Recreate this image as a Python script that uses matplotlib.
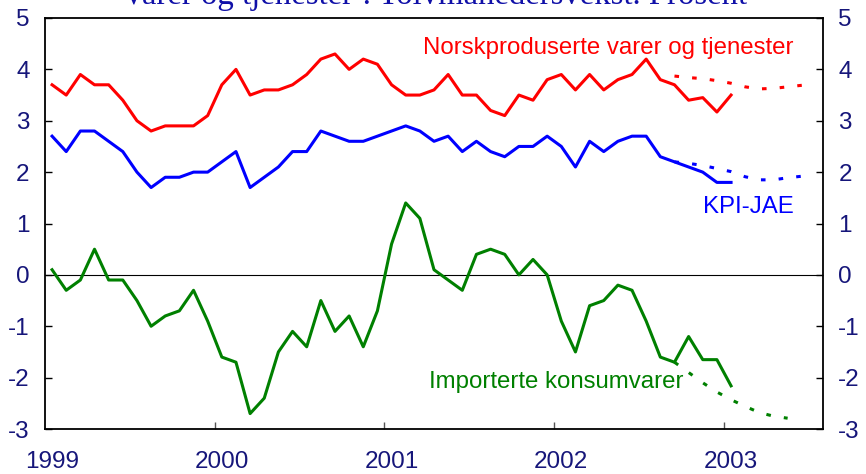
"""Varer og tjenester: tolvmånedersvekst i KPI-JAE, norskproduserte og importerte varer."""

import numpy as np
from matplotlib import pyplot as plt

plt.rcParams["font.family"] = ["Liberation Sans", "DejaVu Sans"]
plt.rcParams["axes.unicode_minus"] = False

# monthly data, Jan 1999 - Jan 2003
norsk = [
	3.7, 3.5, 3.9, 3.7, 3.7, 3.4, 3.0, 2.8, 2.9, 2.9, 2.9, 3.1,
	3.7, 4.0, 3.5, 3.6, 3.6, 3.7, 3.9, 4.2, 4.3, 4.0, 4.2, 4.1,
	3.7, 3.5, 3.5, 3.6, 3.9, 3.5, 3.5, 3.2, 3.1, 3.5, 3.4, 3.8,
	3.9, 3.6, 3.9, 3.6, 3.8, 3.9, 4.2, 3.8, 3.7, 3.4, 3.45, 3.17,
	3.5,
]
kpi_jae = [
	2.7, 2.4, 2.8, 2.8, 2.6, 2.4, 2.0, 1.7, 1.9, 1.9, 2.0, 2.0,
	2.2, 2.4, 1.7, 1.9, 2.1, 2.4, 2.4, 2.8, 2.7, 2.6, 2.6, 2.7,
	2.8, 2.9, 2.8, 2.6, 2.7, 2.4, 2.6, 2.4, 2.3, 2.5, 2.5, 2.7,
	2.5, 2.1, 2.6, 2.4, 2.6, 2.7, 2.7, 2.3, 2.2, 2.1, 2.0, 1.8,
	1.8,
]
importerte = [
	0.1, -0.3, -0.1, 0.5, -0.1, -0.1, -0.5, -1.0, -0.8, -0.7, -0.3, -0.9,
	-1.6, -1.7, -2.7, -2.4, -1.5, -1.1, -1.4, -0.5, -1.1, -0.8, -1.4, -0.7,
	0.6, 1.4, 1.1, 0.1, -0.1, -0.3, 0.4, 0.5, 0.4, 0.0, 0.3, 0.0,
	-0.9, -1.5, -0.6, -0.5, -0.2, -0.3, -0.9, -1.6, -1.7, -1.2, -1.65, -1.65,
	-2.16,
]

# projections, Sep 2002 - Jun 2003
proj_start = 44
norsk_proj = [3.87, 3.84, 3.82, 3.78, 3.73, 3.66, 3.62, 3.63, 3.66, 3.69]
kpi_jae_proj = [2.2, 2.17, 2.13, 2.07, 2.01, 1.91, 1.85, 1.85, 1.89, 1.92]
importerte_proj = [-1.7, -1.9, -2.1, -2.28, -2.43, -2.56, -2.68, -2.75, -2.79]

years = [1999, 2000, 2001, 2002, 2003]

RED = "#ff0000"
BLUE = "#0000ff"
GREEN = "#008000"
NAVY = "#16167a"


def _months(start: int, n: int) -> np.ndarray:
	# place each month at its midpoint
	return 1999 + (np.arange(start, start + n) + 0.5) / 12


fig = plt.figure(figsize=(8.66, 4.74), dpi=100)
ax = fig.add_axes([45 / 866, 45 / 474, 778 / 866, 411 / 474])

lw = 2.2
dots = (0, (1.5, 4.3))
ax.axhline(0, color="black", lw=0.8)

ax.plot(_months(0, len(norsk)), norsk, color=RED, lw=lw)
ax.plot(_months(0, len(kpi_jae)), kpi_jae, color=BLUE, lw=lw)
ax.plot(_months(0, len(importerte)), importerte, color=GREEN, lw=lw)
ax.plot(_months(proj_start, len(norsk_proj)), norsk_proj, color=RED, lw=lw, ls=dots)
ax.plot(_months(proj_start, len(kpi_jae_proj)), kpi_jae_proj, color=BLUE, lw=lw, ls=dots)
ax.plot(
	_months(proj_start, len(importerte_proj)), importerte_proj, color=GREEN, lw=lw, ls=dots,
)

ax.set_xlim(1999, 2003 + 7 / 12)
ax.set_ylim(-3, 5)

# series labels
ax.text(2003.41, 4.42, "Norskproduserte varer og tjenester", color=RED, fontsize=17.3,
	ha="right", va="center")
ax.text(2003.41, 1.32, "KPI-JAE", color=BLUE, fontsize=17.3, ha="right", va="center")
ax.text(2001.265, -2.08, "Importerte konsumvarer", color=GREEN, fontsize=17.3,
	ha="left", va="center")

# year ticks on the bottom, labels at January
ax.set_xticks(years[1:])
ax.set_xticklabels([])
ax.set_xticks([y + 0.5 / 12 for y in years], minor=True)
ax.set_xticklabels([str(y) for y in years], minor=True)
ax.tick_params(axis="x", which="major", direction="in", length=5, width=1, color="#555555")
ax.tick_params(axis="x", which="minor", length=0, pad=15.5, labelsize=17.5, labelcolor=NAVY)

ax.set_yticks(range(-3, 6))
ax.tick_params(axis="y", direction="in", length=5, width=1, pad=11, labelsize=17.5,
	labelcolor=NAVY, right=True, labelright=True)

for spine in ax.spines.values():
	spine.set_linewidth(1.3)

fig.text(0.502, 1 - 4 / 474, "Varer og tjenester¹. Tolvmånedersvekst. Prosent",
	family="Liberation Serif", fontsize=23.6, color="#1010a8", ha="center", va="baseline")

plt.savefig("out.png", dpi=100)
